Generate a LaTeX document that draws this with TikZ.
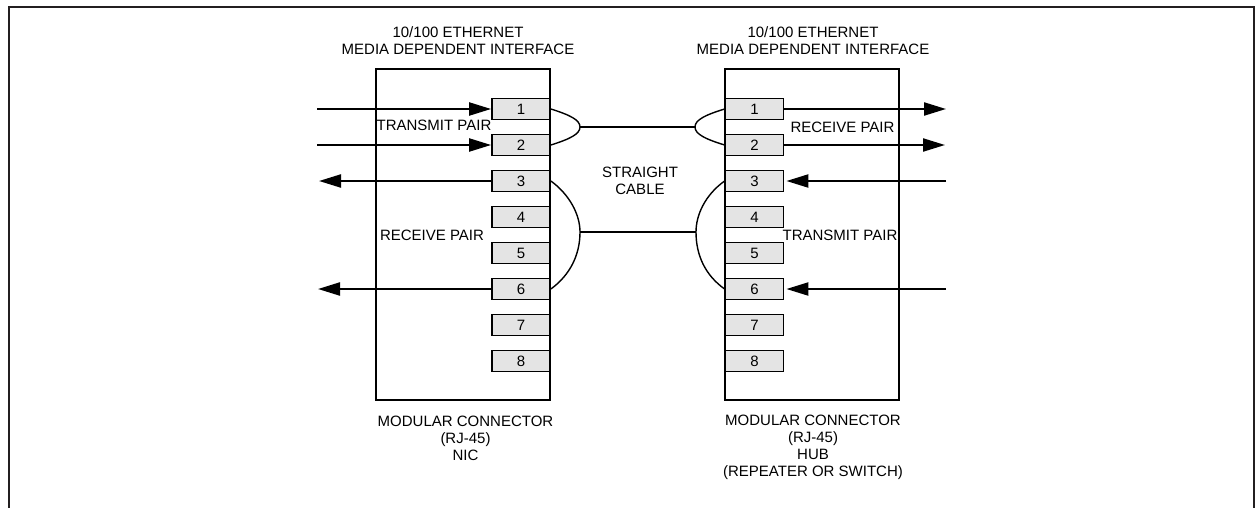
\documentclass[tikz,border=0pt]{standalone}
\usepackage{fontspec}
\setmainfont{Liberation Sans}
\usepackage{xcolor}
\definecolor{pinfill}{RGB}{228,228,228}
\definecolor{framecol}{RGB}{35,31,32}
\tikzset{
  pinbox/.style={draw, line width=1.8pt, fill=pinfill, minimum width=58pt, minimum height=21pt, inner sep=0pt, font=\fontsize{15}{15}\selectfont},
  mainbox/.style={draw, line width=1.4pt, minimum width=174pt, minimum height=331pt, inner sep=0pt},
  lbl/.style={align=center, inner sep=0pt, font=\fontsize{15}{17}\selectfont},
  sigwire/.style={line width=2.2pt, -{Triangle[length=22pt,width=13pt]}},
  pairwire/.style={line width=1.4pt}
}
\usetikzlibrary{arrows.meta}
\begin{document}
\begin{tikzpicture}[x=1pt,y=-1pt]
    \useasboundingbox (0,0) rectangle (1255,508) ;
    \draw[line width=2pt, color=framecol] (9,508) -- (9,7) -- (1254,7) -- (1254,508) ;

    % the two connectors
    \node[mainbox] at (463,234.5) (nicbox) {} ;
    \node[mainbox] at (812,234.5) (hubbox) {} ;
    \foreach \n/\y in {1/109,2/145,3/181,4/217,5/253,6/289,7/325,8/361} {
      \node[pinbox] at (521,\y) (nic\n) {\n} ;
      \node[pinbox] at (754.5,\y) (hub\n) {\n} ;
    }

    % signals on the NIC side
    \coordinate (nicin1) at (317,109) ;
    \coordinate (nicin2) at (317,145) ;
    \coordinate (nicout3) at (319,181) ;
    \coordinate (nicout6) at (318,289) ;
    \draw[sigwire] (nicin1) -- (nic1.west) ;
    \draw[sigwire] (nicin2) -- (nic2.west) ;
    \draw[sigwire] (nic3.west) -- (nicout3) ;
    \draw[sigwire] (nic6.west) -- (nicout6) ;

    % signals on the hub side
    \coordinate (hubout1) at (946,109) ;
    \coordinate (hubout2) at (945,145) ;
    \coordinate (hubin3) at (946,181) ;
    \coordinate (hubin6) at (946,289) ;
    \draw[sigwire] (hub1.east) -- (hubout1) ;
    \draw[sigwire] (hub2.east) -- (hubout2) ;
    \draw[sigwire] (hubin3) -- ([xshift=2pt]hub3.east) ;
    \draw[sigwire] (hubin6) -- ([xshift=2pt]hub6.east) ;

    % cable
    \coordinate (nictop) at (580,127) ;
    \coordinate (hubtop) at (695,127) ;
    \coordinate (nicbot) at (580,232) ;
    \coordinate (hubbot) at (696,232) ;
    \draw[pairwire] (nic1.east) .. controls (570,115) and (580,120) .. (nictop) .. controls (580,134) and (570,139) .. (nic2.east) ;
    \draw[pairwire] (hub1.west) .. controls (705,115) and (695,120) .. (hubtop) .. controls (695,134) and (705,139) .. (hub2.west) ;
    \draw[pairwire] (nic3.east) .. controls (570,195) and (580,215) .. (nicbot) .. controls (580,255) and (570,275) .. (nic6.east) ;
    \draw[pairwire] (hub3.west) .. controls (705,195) and (696,215) .. (hubbot) .. controls (696,255) and (705,275) .. (hub6.west) ;
    \draw[pairwire] (nictop) -- (hubtop) ;
    \draw[pairwire] (nicbot) -- (hubbot) ;

    \node[lbl] at (458,41) (nictitle) {10/100 ETHERNET\\MEDIA DEPENDENT INTERFACE} ;
    \node[lbl] at (813,41) (hubtitle) {10/100 ETHERNET\\MEDIA DEPENDENT INTERFACE} ;
    \node[lbl] at (434,125) (nictx) {TRANSMIT PAIR} ;
    \node[lbl] at (432,235) (nicrx) {RECEIVE PAIR} ;
    \node[lbl] at (842.5,127) (hubrx) {RECEIVE PAIR} ;
    \node[lbl] at (840,235) (hubtx) {TRANSMIT PAIR} ;
    \node[lbl] at (640,181) (cable) {STRAIGHT\\CABLE} ;
    \node[lbl] at (465.5,438.5) (nicname) {MODULAR CONNECTOR\\(RJ-45)\\NIC} ;
    \node[lbl] at (813,447.5) (hubname) {MODULAR CONNECTOR\\(RJ-45)\\HUB\\(REPEATER OR SWITCH)} ;
  \end{tikzpicture}
\end{document}
